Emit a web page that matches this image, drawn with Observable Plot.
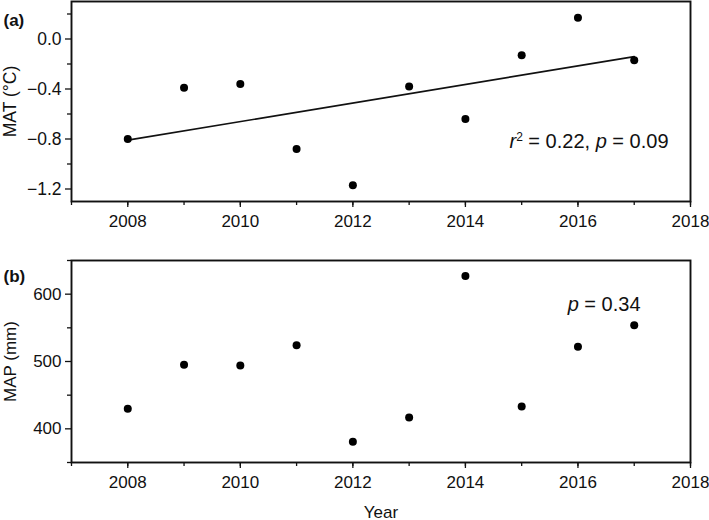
<!DOCTYPE html>
<html><head><meta charset="utf-8">
<script src="https://cdn.jsdelivr.net/npm/d3@7"></script>
<script src="https://cdn.jsdelivr.net/npm/@observablehq/plot@0.6"></script>
<style>
body{margin:0;background:#fff;}
#chart{width:709px;height:520px;overflow:hidden;background:#fff;}
#chart svg{display:block;}
</style></head><body><div id="chart"></div>
<script>
const years = [2008, 2009, 2010, 2011, 2012, 2013, 2014, 2015, 2016, 2017];
const mat = [-0.80, -0.39, -0.36, -0.88, -1.17, -0.38, -0.64, -0.13, 0.17, -0.17];
const map = [430, 495, 494, 524, 381, 417, 627, 433, 522, 554];
const yearTicks = [2008, 2010, 2012, 2014, 2016, 2018];
const yearMinorTicks = [2007, 2008, 2009, 2010, 2011, 2012, 2013, 2014, 2015, 2016, 2017, 2018];
const matTicks = [0, -0.4, -0.8, -1.2];
const matMinorTicks = [0.2, -0.2, -0.6, -1.0];
const mapTicks = [400, 500, 600];
const mapMinorTicks = [350, 450, 550, 650];
const panelLabels = ["(a)", "(b)"];
const yLabels = ["MAT (°C)", "MAP (mm)"];
const xLabel = "Year";
const statsA = [{text: "r", italic: true}, {text: "2", sup: true}, {text: " = 0.22, "}, {text: "p", italic: true}, {text: " = 0.09"}];
const statsB = [{text: "p", italic: true}, {text: " = 0.34"}];

const font = "'Liberation Sans', Arial, Helvetica, sans-serif";
const ink = "#111";

function richText(parts) {
  return function (index, scales, values, dimensions, context, next) {
    const g = next(index, scales, values, dimensions, context);
    const t = g.querySelector("text");
    if (t) {
      t.textContent = "";
      let shifted = false;
      for (const p of parts) {
        const ts = document.createElementNS("http://www.w3.org/2000/svg", "tspan");
        ts.textContent = p.text;
        if (p.italic) ts.setAttribute("font-style", "italic");
        if (p.sup) { ts.setAttribute("font-size", "0.6em"); ts.setAttribute("dy", "-7"); shifted = true; }
        else if (shifted) { ts.setAttribute("dy", "7"); shifted = false; }
        t.appendChild(ts);
      }
    }
    return g;
  };
}

const common = {
  width: 709,
  marginLeft: 71,
  marginRight: 19,
  style: {fontFamily: font, fontSize: "17px", color: ink, background: "white", overflow: "visible"},
  x: {domain: [2007, 2018]}
};

const dataA = years.map((year, i) => ({year, value: mat[i]}));
const dataB = years.map((year, i) => ({year, value: map[i]}));

const plotA = Plot.plot({
  ...common,
  height: 250,
  marginTop: 1,
  marginBottom: 49,
  y: {domain: [-1.3, 0.3]},
  marks: [
    Plot.axisX(yearMinorTicks, {tickSize: 4, text: null, strokeWidth: 1.3, label: null}),
    Plot.axisX(yearTicks, {tickSize: 6, tickPadding: 7, strokeWidth: 1.3, tickFormat: d => String(d), label: null}),
    Plot.axisY(matMinorTicks, {tickSize: 4, text: null, strokeWidth: 1.3, label: null}),
    Plot.axisY(matTicks, {tickSize: 6, tickPadding: 4, strokeWidth: 1.3, tickFormat: d3.format(".1f"),
      label: yLabels[0], labelAnchor: "center", labelArrow: "none", labelOffset: 68, fontSize: 17.5}),
    Plot.frame({stroke: ink, strokeWidth: 1.9}),
    Plot.linearRegressionY(dataA, {x: "year", y: "value", ci: 0, stroke: ink, strokeWidth: 1.6}),
    Plot.dot(dataA, {x: "year", y: "value", r: 4, fill: "#000"}),
    Plot.text([panelLabels[0]], {frameAnchor: "top-left", dx: -68, dy: 12, textAnchor: "start", fontWeight: "bold", fontSize: 17}),
    Plot.text([statsA.map(p => p.text).join("")], {frameAnchor: "bottom-right", dx: -22, dy: -54, textAnchor: "end", fontSize: 20, render: richText(statsA)})
  ]
});

const plotB = Plot.plot({
  ...common,
  height: 270,
  marginTop: 10,
  marginBottom: 58,
  y: {domain: [350, 650]},
  marks: [
    Plot.axisX(yearMinorTicks, {tickSize: 4, text: null, strokeWidth: 1.3, label: null}),
    Plot.axisX(yearTicks, {tickSize: 6, tickPadding: 7, strokeWidth: 1.3, tickFormat: d => String(d),
      label: xLabel, labelAnchor: "center", labelArrow: "none", labelOffset: 55}),
    Plot.axisY(mapMinorTicks, {tickSize: 4, text: null, strokeWidth: 1.3, label: null}),
    Plot.axisY(mapTicks, {tickSize: 6, tickPadding: 4, strokeWidth: 1.3, tickFormat: d3.format("d"),
      label: yLabels[1], labelAnchor: "center", labelArrow: "none", labelOffset: 68}),
    Plot.frame({stroke: ink, strokeWidth: 1.9}),
    Plot.dot(dataB, {x: "year", y: "value", r: 4, fill: "#000"}),
    Plot.text([panelLabels[1]], {frameAnchor: "top-left", dx: -68, dy: 9, textAnchor: "start", fontWeight: "bold", fontSize: 17}),
    Plot.text([statsB.map(p => p.text).join("")], {frameAnchor: "top-right", dx: -50, dy: 36, textAnchor: "end", fontSize: 20, render: richText(statsB)})
  ]
});

const chart = document.getElementById("chart");
chart.appendChild(plotA);
chart.appendChild(plotB);
</script>
</body></html>
